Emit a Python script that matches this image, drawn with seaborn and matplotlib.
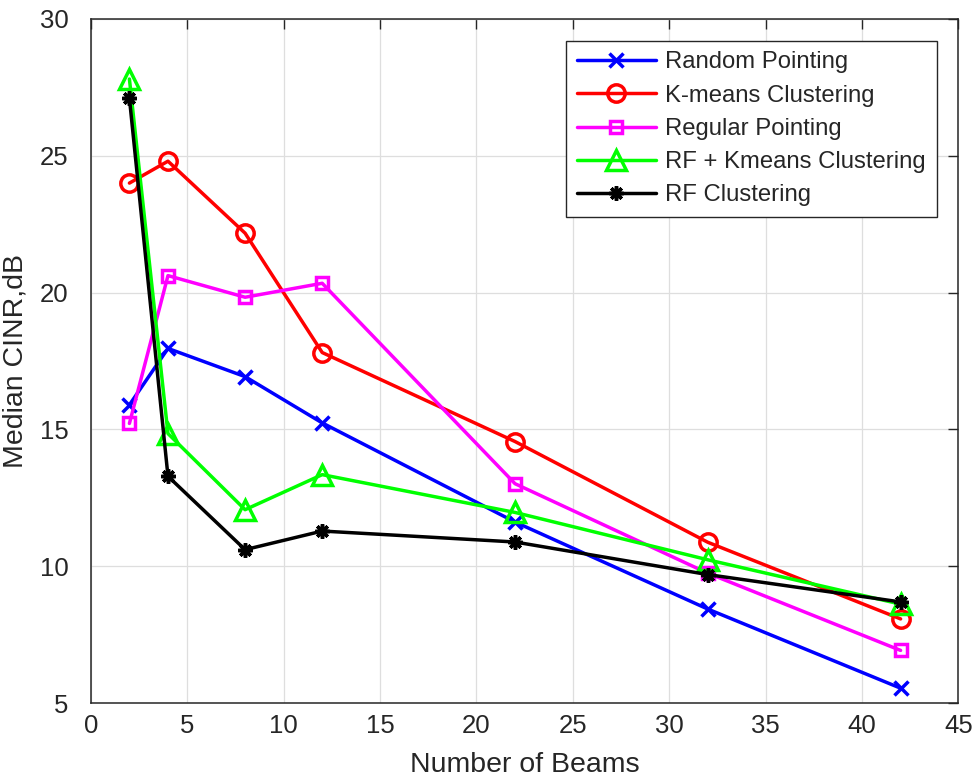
import pandas as pd
import matplotlib
matplotlib.use('Agg')
import matplotlib.pyplot as plt
import seaborn as sns

# Dados
beams = [2, 4, 8, 12, 22, 32, 42]
random_pointing = [15.9, 17.96, 16.93, 15.24, 11.62, 8.44, 5.55]
kmeans_clustering = [24.0, 24.8, 22.17, 17.81, 14.56, 10.88, 8.08]
regular_pointing = [15.22, 20.62, 19.83, 20.34, 13.02, 9.75, 6.93]
rf_kmeans_clustering = [27.8, 14.85, 12.07, 13.35, 11.97, 10.24, 8.62]
rf_clustering = [27.1, 13.29, 10.61, 11.29, 10.89, 9.7, 8.7]

series = ['Random Pointing', 'K-means Clustering', 'Regular Pointing',
          'RF + Kmeans Clustering', 'RF Clustering']
valores = [random_pointing, kmeans_clustering, regular_pointing,
           rf_kmeans_clustering, rf_clustering]

# Estilo de cada série
cores = ['#0000ff', '#ff0000', '#ff00ff', '#00ff00', '#000000']
marcadores = ['x', 'o', 's', '^', (8, 2, 0)]
tamanhos = [9.5, 12.5, 8, 14, 10.5]

# Montar DataFrame no formato longo
df = pd.concat([
    pd.DataFrame({'Beams': beams, 'CINR': v, 'Serie': s})
    for s, v in zip(series, valores)
], ignore_index=True)

sns.set_style('white')
plt.rcParams['font.family'] = ['Liberation Sans', 'DejaVu Sans']

fig = plt.figure(figsize=(9.77, 7.84), dpi=100)
ax = fig.add_axes([0.093, 0.103, 0.888, 0.873])

for s, cor, m, ms in zip(series, cores, marcadores, tamanhos):
    sns.lineplot(
        data=df[df['Serie'] == s], x='Beams', y='CINR', ax=ax,
        color=cor, marker=m, markersize=ms, linewidth=2.5,
        markerfacecolor='none' if m in ['o', 's', '^'] else cor,
        markeredgecolor=cor, markeredgewidth=2.5, label=s
    )

ax.set_xlim(0, 45)
ax.set_ylim(5, 30)
ax.set_xticks(range(0, 46, 5))
ax.set_yticks(range(5, 31, 5))
ax.grid(True, color='#dedede', linewidth=0.9)
ax.tick_params(direction='in', length=7, width=1, colors='#262626',
               labelsize=18.5, top=True, right=True)
ax.tick_params(axis='y', pad=16)
ax.tick_params(axis='x', pad=8)
for sp in ax.spines.values():
    sp.set_color('#262626')
    sp.set_linewidth(1.1)

ax.set_xlabel('Number of Beams', fontsize=20.5, color='#262626', labelpad=10)
ax.set_ylabel('Median CINR,dB', fontsize=20.5, color='#262626', labelpad=8)

leg = ax.legend(loc='upper right', bbox_to_anchor=(0.975, 0.968),
                borderaxespad=0, fontsize=17.2, handlelength=3.3,
                labelspacing=0.47, fancybox=False, framealpha=1,
                edgecolor='#262626', borderpad=0.45, handletextpad=0.4)
leg.get_frame().set_linewidth(1)

plt.savefig('out.png', dpi=100)
